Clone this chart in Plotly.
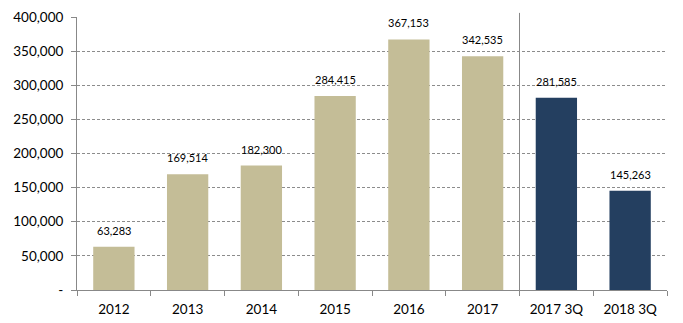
import plotly.graph_objects as go

categories = ["2012", "2013", "2014", "2015", "2016", "2017", "2017 3Q", "2018 3Q"]
values = [63283, 169514, 182300, 284415, 367153, 342535, 281585, 145263]
bar_colors = ["#C4BD97"] * 6 + ["#243F60"] * 2

tick_vals = [0, 50000, 100000, 150000, 200000, 250000, 300000, 350000, 400000]
tick_text = ["-", "50,000", "100,000", "150,000", "200,000", "250,000", "300,000", "350,000", "400,000"]

fig = go.Figure()
fig.add_trace(go.Bar(
    x=categories,
    y=values,
    marker=dict(color=bar_colors, line=dict(width=0)),
    width=0.56,
    hoverinfo="skip",
))

# value labels above each bar (positioned by category index)
for i, v in enumerate(values):
    fig.add_annotation(
        x=i, y=v, text=f"{v:,}", showarrow=False,
        xref="x", yref="y",
        yanchor="bottom", yshift=8,
        font=dict(family="Lato, Open Sans, sans-serif", size=11, color="#000000"),
    )

# divider between annual and quarterly figures
fig.add_shape(
    type="line", xref="x", yref="paper",
    x0=5.5, x1=5.5, y0=-0.02, y1=1.015,
    line=dict(color="#888888", width=1),
)

fig.update_layout(
    width=683, height=323,
    margin=dict(l=77, r=16, t=17, b=33),
    paper_bgcolor="white", plot_bgcolor="white",
    showlegend=False,
    bargap=0.44,
    font=dict(family="Lato, Open Sans, sans-serif", size=13, color="#000000"),
    xaxis=dict(
        type="category",
        automargin=False,
        showline=True, linecolor="#888888", linewidth=1,
        ticks="outside", tickson="boundaries", ticklen=5, tickcolor="#888888",
        showgrid=False,
        tickfont=dict(size=13.5),
        ticklabelstandoff=7,
        range=[-0.5, 7.5],
    ),
    yaxis=dict(
        range=[0, 400000],
        automargin=False,
        tickvals=tick_vals, ticktext=tick_text,
        showline=True, linecolor="#888888", linewidth=1,
        ticks="outside", ticklen=5, tickcolor="#888888",
        showgrid=True, gridcolor="#8c8c8c", griddash="3px,2px", gridwidth=1,
        zeroline=False,
        tickfont=dict(size=13.5),
        ticklabelstandoff=5,
    ),
)

fig.write_html("out.html")
